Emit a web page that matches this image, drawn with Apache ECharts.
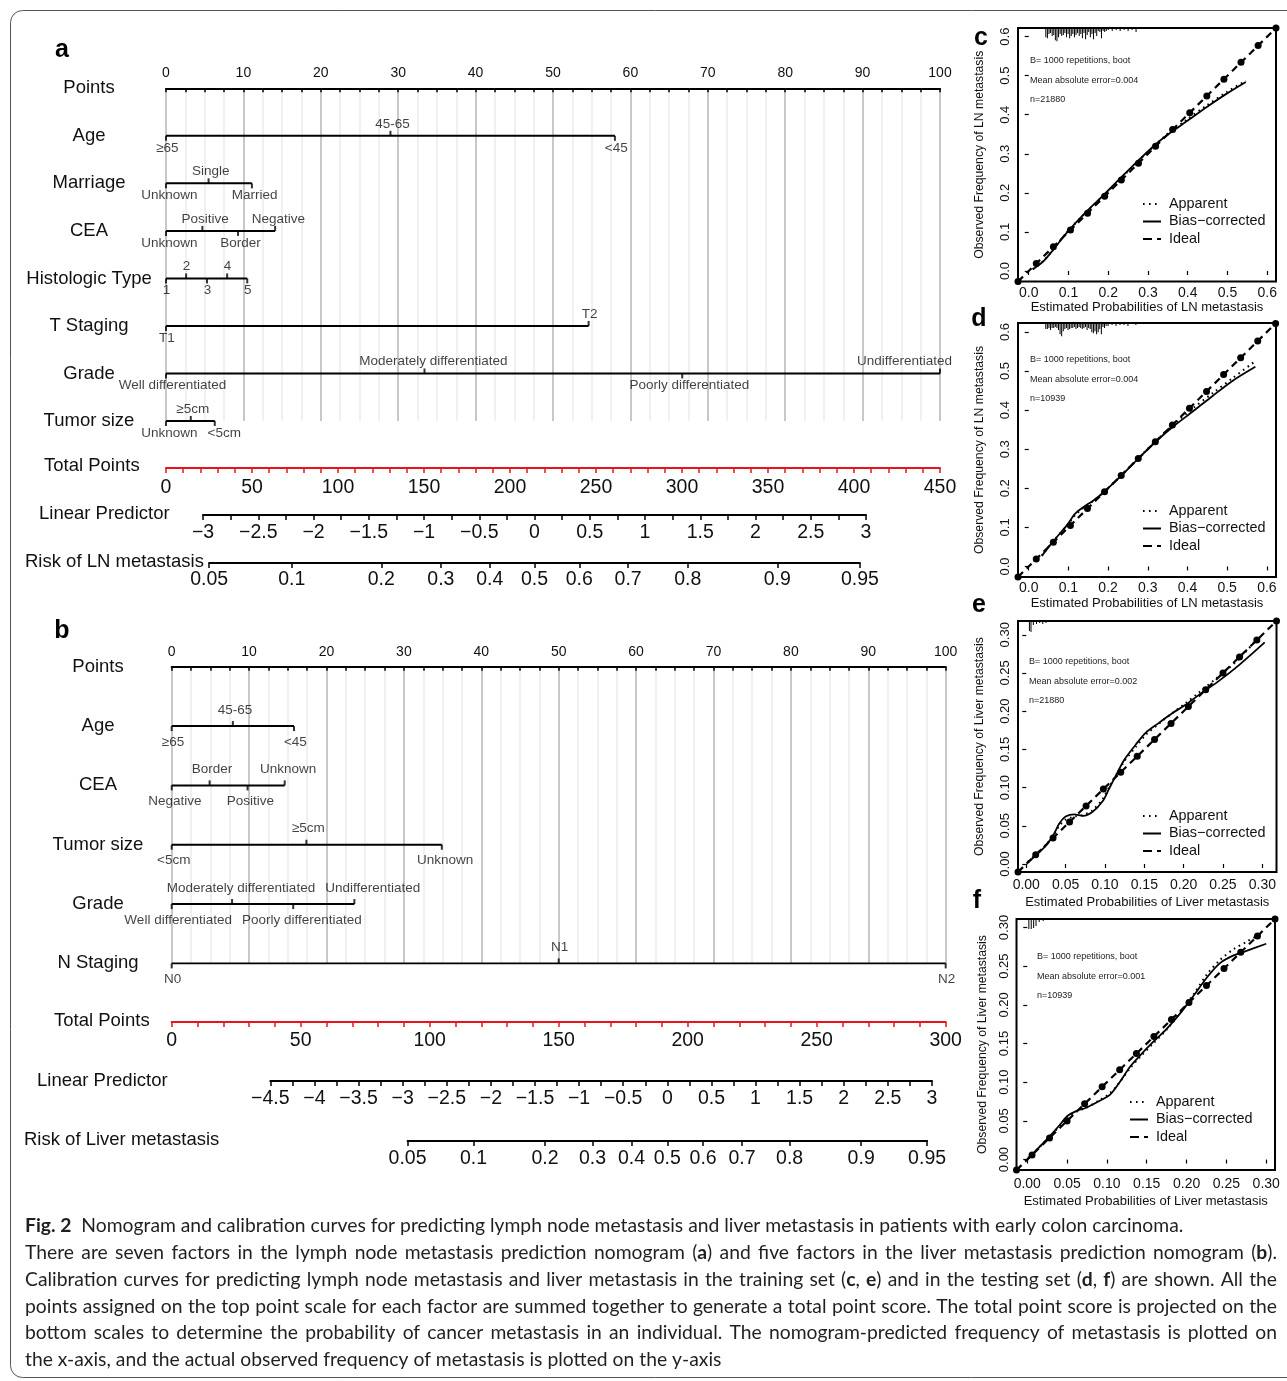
<!DOCTYPE html>
<html>
<head>
<meta charset="utf-8">
<title>Nomogram and calibration curves</title>
<script src="https://cdn.jsdelivr.net/npm/echarts@6.0.0/dist/echarts.min.js"></script>
<style>
html,body{margin:0;padding:0;background:#fff;}
#fig{width:1287px;height:1381px;}
</style>
</head>
<body>
<div id="fig"></div>
<script>
// ---------- Nomogram a: lymph node metastasis ----------
const rowNamesA = ['Points', 'Age', 'Marriage', 'CEA', 'Histologic Type', 'T Staging', 'Grade', 'Tumor size'];
const ageLevelsA = ['≥65', '45-65', '<45'];
const agePointsA = [0, 29, 58];
const marriageLevelsA = ['Unknown', 'Single', 'Married'];
const marriagePointsA = [0, 5.5, 11.1];
const ceaLevelsA = ['Unknown', 'Positive', 'Border', 'Negative'];
const ceaPointsA = [0, 4.7, 9.3, 14.1];
const histLevelsA = ['1', '2', '3', '4', '5'];
const histPointsA = [0, 2.6, 5.3, 7.9, 10.5];
const tLevelsA = ['T1', 'T2'];
const tPointsA = [0, 54.6];
const gradeLevelsA = ['Well differentiated', 'Moderately differentiated', 'Poorly differentiated', 'Undifferentiated'];
const gradePointsA = [0, 33.4, 66.7, 100];
const sizeLevelsA = ['Unknown', '≥5cm', '<5cm'];
const sizePointsA = [0, 3.2, 6.3];
const totalPointsA = [0, 450];
const linearPredA = [-3, 3];

// ---------- Nomogram b: liver metastasis ----------
const rowNamesB = ['Points', 'Age', 'CEA', 'Tumor size', 'Grade', 'N Staging'];
const ageLevelsB = ['≥65', '45-65', '<45'];
const agePointsB = [0, 7.9, 15.8];
const ceaLevelsB = ['Negative', 'Border', 'Positive', 'Unknown'];
const ceaPointsB = [0, 4.9, 9.8, 14.6];
const sizeLevelsB = ['<5cm', '≥5cm', 'Unknown'];
const sizePointsB = [0, 17.4, 34.9];
const gradeLevelsB = ['Well differentiated', 'Moderately differentiated', 'Poorly differentiated', 'Undifferentiated'];
const gradePointsB = [0, 7.8, 15.7, 23.6];
const nLevelsB = ['N0', 'N1', 'N2'];
const nPointsB = [0, 50, 100];
const totalPointsB = [0, 300];
const linearPredB = [-4.5, 3];

// risk scale ticks (probabilities)
const riskTicks = [0.05, 0.1, 0.2, 0.3, 0.4, 0.5, 0.6, 0.7, 0.8, 0.9, 0.95];

// ---------- Calibration curves ----------
const calTicksLN = [0, 0.1, 0.2, 0.3, 0.4, 0.5, 0.6];
const calTicksLiver = [0, 0.05, 0.1, 0.15, 0.2, 0.25, 0.3];

const idealC = [-0.027, 0.019, 0.062, 0.105, 0.148, 0.191, 0.233, 0.276, 0.319, 0.362, 0.405, 0.448, 0.491, 0.534, 0.577, 0.622];
const biasC = [[0.01, 0.004], [0.038, 0.026], [0.063, 0.056], [0.096, 0.098], [0.146, 0.153], [0.19, 0.196], [0.233, 0.24], [0.276, 0.283], [0.32, 0.325], [0.347, 0.347], [0.397, 0.383], [0.448, 0.42], [0.498, 0.454], [0.546, 0.484]];
const apparentC = [[0.01, 0.005], [0.038, 0.027], [0.063, 0.057], [0.096, 0.099], [0.146, 0.152], [0.19, 0.195], [0.233, 0.238], [0.276, 0.282], [0.32, 0.324], [0.347, 0.349], [0.397, 0.387], [0.448, 0.424], [0.498, 0.458], [0.546, 0.487]];

const idealD = [-0.027, 0.019, 0.062, 0.105, 0.148, 0.191, 0.233, 0.276, 0.319, 0.362, 0.405, 0.448, 0.491, 0.534, 0.577, 0.622];
const biasD = [[0.033, 0.027], [0.063, 0.066], [0.096, 0.105], [0.117, 0.135], [0.138, 0.152], [0.163, 0.169], [0.19, 0.191], [0.23, 0.229], [0.276, 0.276], [0.322, 0.321], [0.364, 0.358], [0.414, 0.397], [0.464, 0.437], [0.515, 0.476], [0.571, 0.511]];
const apparentD = [[0.033, 0.028], [0.063, 0.066], [0.096, 0.104], [0.117, 0.131], [0.138, 0.15], [0.163, 0.168], [0.19, 0.191], [0.23, 0.23], [0.276, 0.277], [0.322, 0.323], [0.364, 0.362], [0.414, 0.405], [0.464, 0.444], [0.515, 0.483], [0.569, 0.524]];

const idealE = [-0.0105, 0.012, 0.034, 0.055, 0.076, 0.098, 0.12, 0.141, 0.163, 0.184, 0.206, 0.228, 0.25, 0.271, 0.293, 0.318];
const biasE = [[0.002, 0.002], [0.012, 0.011], [0.025, 0.024], [0.035, 0.039], [0.042, 0.053], [0.05, 0.062], [0.061, 0.065], [0.072, 0.063], [0.084, 0.068], [0.097, 0.082], [0.105, 0.098], [0.114, 0.116], [0.125, 0.137], [0.139, 0.156], [0.152, 0.172], [0.169, 0.185], [0.185, 0.197], [0.202, 0.208], [0.219, 0.221], [0.244, 0.239], [0.27, 0.26], [0.303, 0.29]];
const apparentE = [[0.002, 0.003], [0.012, 0.012], [0.025, 0.025], [0.035, 0.038], [0.042, 0.05], [0.05, 0.058], [0.061, 0.062], [0.072, 0.064], [0.084, 0.07], [0.097, 0.085], [0.105, 0.1], [0.114, 0.116], [0.125, 0.135], [0.139, 0.153], [0.152, 0.169], [0.169, 0.184], [0.185, 0.197], [0.202, 0.21], [0.219, 0.224], [0.244, 0.245], [0.27, 0.268], [0.292, 0.293]];

const idealF = [-0.0135, 0.006, 0.028, 0.05, 0.072, 0.094, 0.116, 0.137, 0.159, 0.181, 0.203, 0.225, 0.247, 0.268, 0.289, 0.311];
const biasF = [[0.001, 0.001], [0.028, 0.03], [0.041, 0.045], [0.05, 0.056], [0.062, 0.063], [0.074, 0.067], [0.091, 0.076], [0.104, 0.084], [0.116, 0.1], [0.129, 0.12], [0.142, 0.135], [0.158, 0.152], [0.175, 0.169], [0.192, 0.189], [0.209, 0.212], [0.226, 0.236], [0.242, 0.254], [0.259, 0.264], [0.276, 0.27], [0.3, 0.279]];
const apparentF = [[0.001, 0.002], [0.028, 0.029], [0.041, 0.044], [0.05, 0.055], [0.062, 0.062], [0.074, 0.067], [0.091, 0.077], [0.104, 0.086], [0.116, 0.1], [0.129, 0.118], [0.142, 0.133], [0.158, 0.15], [0.175, 0.168], [0.192, 0.19], [0.209, 0.214], [0.226, 0.24], [0.242, 0.258], [0.259, 0.272], [0.276, 0.282], [0.288, 0.289]];

// distribution of predicted probabilities (rug counts along the top edge)
const rugLNx = [0.043, 0.047, 0.051, 0.055, 0.059, 0.063, 0.067, 0.071, 0.075, 0.079, 0.083, 0.087, 0.091, 0.095, 0.099, 0.103, 0.107, 0.111, 0.115, 0.119, 0.123, 0.127, 0.131, 0.135, 0.139, 0.143, 0.147, 0.151, 0.155, 0.159, 0.163, 0.167, 0.171, 0.175, 0.179, 0.183, 0.187, 0.191, 0.195, 0.2, 0.21, 0.22, 0.23, 0.24, 0.25, 0.26, 0.27, 0.28, 0.29, 0.3, 0.32, 0.34, 0.36, 0.38, 0.4];
const rugCh = [9, 10, 6, 5, 8, 7, 12, 13, 9, 6, 8, 7, 5, 9, 6, 10, 8, 6, 9, 7, 5, 8, 6, 10, 5, 11, 7, 4, 9, 6, 11, 5, 8, 3, 4, 10, 3, 4, 3, 2, 3, 2, 3, 2, 3, 2, 4, 1, 1, 1, 1, 1, 1, 1, 1];
const rugDh = [6, 6, 5, 7, 5, 5, 4, 5, 7, 11, 13, 8, 6, 5, 7, 6, 5, 5, 4, 6, 5, 4, 5, 6, 5, 4, 7, 5, 6, 9, 10, 8, 11, 9, 6, 11, 4, 5, 3, 3, 2, 3, 2, 2, 3, 1, 2, 1, 1, 1, 1, 1, 1, 1, 1];
const rugEx = [0.004, 0.006, 0.009, 0.013, 0.017, 0.021, 0.025, 0.03, 0.035, 0.04, 0.05, 0.06];
const rugEh = [10, 11, 4, 3, 2, 3, 2, 1, 1, 1, 1, 1];
const rugFx = [0.002, 0.005, 0.008, 0.011, 0.015, 0.02, 0.027, 0.033, 0.041, 0.054, 0.07, 0.09];
const rugFh = [10, 10, 9, 7, 3, 2, 1, 1, 1, 1, 1, 1];

// ---------- Caption ----------
const captionLines = [
  '**Fig. 2**  Nomogram and calibration curves for predicting lymph node metastasis and liver metastasis in patients with early colon carcinoma.',
  'There are seven factors in the lymph node metastasis prediction nomogram (**a**) and five factors in the liver metastasis prediction nomogram (**b**).',
  'Calibration curves for predicting lymph node metastasis and liver metastasis in the training set (**c**, **e**) and in the testing set (**d**, **f**) are shown. All the',
  'points assigned on the top point scale for each factor are summed together to generate a total point score. The total point score is projected on the',
  'bottom scales to determine the probability of cancer metastasis in an individual. The nomogram-predicted frequency of metastasis is plotted on',
  'the x-axis, and the actual observed frequency of metastasis is plotted on the y-axis'
];
const captionJustified = [false, true, true, true, true, false];

// ---------- helpers ----------
const FONT = '"Liberation Sans", Arial, Helvetica, sans-serif';
const CAPFONT = 'Lato, "Open Sans", sans-serif';
const INK = '#111';
const RED = '#e8141c';
const MINUS = '\u2212';

const logit = p => Math.log(p / (1 - p));
const invlogit = v => 1 / (1 + Math.exp(-v));

const mctx = document.createElement('canvas').getContext('2d');
function textW(s, size, fam, bold) {
  mctx.font = (bold ? 'bold ' : '') + size + 'px ' + fam;
  return mctx.measureText(s).width;
}

const grid = [], xAxis = [], yAxis = [], series = [], graphic = [];
function addGrid(g) { grid.push(Object.assign({ outerBoundsMode: 'none', containLabel: false }, g)); return grid.length - 1; }
function addX(a) { xAxis.push(a); return xAxis.length - 1; }
function addY(a) { yAxis.push(a); return yAxis.length - 1; }

// upper part of a nomogram: the Points scale plus one row per factor
function nomogramTop(box, rowNames, rows, nameCenterX, labelGap) {
  const gi = addGrid({ left: box.left, top: box.top, width: box.width, height: box.height });
  const xi = addX({
    gridIndex: gi, type: 'value', position: 'top', min: 0, max: 100, interval: 10,
    axisLine: { show: true, onZero: false, lineStyle: { color: '#000', width: 2 } },
    axisTick: { show: true, inside: true, length: 4, lineStyle: { color: '#000', width: 1.5 } },
    minorTick: { show: true, splitNumber: 4, length: 4, lineStyle: { color: '#000', width: 1.5 } },
    axisLabel: { margin: 8, fontSize: 14, color: INK, fontFamily: FONT },
    splitLine: { show: true, lineStyle: { color: '#c8c8c8', width: 2 } },
    minorSplitLine: { show: true, lineStyle: { color: '#ebebeb', width: 1.5 } }
  });
  const yi = addY({
    gridIndex: gi, type: 'value', inverse: true, min: 0, max: rowNames.length - 1, interval: 1,
    axisLine: { show: false }, axisTick: { show: false }, splitLine: { show: false },
    axisLabel: { formatter: v => rowNames[v] || '', align: 'center', margin: box.left - nameCenterX, fontSize: 18.5, color: INK, fontFamily: FONT }
  });
  const pxPerPt = box.width / 100;
  rows.forEach((row, i) => {
    const r = i + 1;
    const pts = row.points;
    // level labels sit slightly right of their tick and are pushed apart when they would collide
    const dx = pts.map(() => 0);
    [0, 1].forEach(side => {
      let prevRight = -Infinity;
      pts.forEach((p, k) => {
        if (k % 2 !== side) return;
        const w = textW(row.levels[k], 13.5, FONT);
        const c = p * pxPerPt;
        let left = Math.max(c + 0.06 * w - w / 2, prevRight + 10);
        if (left + w > box.width + 12) left = box.width + 12 - w;
        dx[k] = left + w / 2 - c;
        prevRight = left + w;
      });
    });
    series.push({
      type: 'line', xAxisIndex: xi, yAxisIndex: yi, silent: true, z: 5, symbol: 'none',
      data: [[pts[0], r], [pts[pts.length - 1], r]],
      lineStyle: { color: '#000', width: 2 }
    });
    series.push({
      type: 'scatter', xAxisIndex: xi, yAxisIndex: yi, silent: true, z: 6,
      symbol: 'rect', symbolSize: [2, 5], itemStyle: { color: '#000' },
      label: { show: true, formatter: '{b}', fontSize: 13.5, color: INK, fontFamily: FONT, distance: labelGap },
      data: row.levels.map((name, k) => ({
        name, value: [pts[k], r],
        symbolOffset: [0, k % 2 ? -2.5 : 2.5],
        label: { position: k % 2 ? 'top' : 'bottom', offset: [dx[k], 0] }
      }))
    });
  });
}

// a single horizontal scale drawn as a bare axis
function scaleAxis(left, width, lineY, axisOpts) {
  const gi = addGrid({ left, top: lineY - 1, width, height: 1 });
  addY({ gridIndex: gi, type: 'value', show: false, min: 0, max: 1 });
  addX(Object.assign({ gridIndex: gi, type: 'value', position: 'bottom', splitLine: { show: false } }, axisOpts));
}

const lpLabel = v => (v < 0 ? MINUS : '') + String(parseFloat(Math.abs(v).toFixed(2)));
const riskLabel = v => String(parseFloat(invlogit(v).toFixed(2)));

function bottomScales(tpBox, tpRange, lpBox, lpRange, ys, names, margins) {
  const blackLine = { show: true, onZero: false, lineStyle: { color: '#000', width: 2 } };
  const blackTick = { show: true, length: 5, lineStyle: { color: '#000', width: 1.5 } };
  const lab = { fontSize: 19.5, fontFamily: FONT, color: INK };
  scaleAxis(tpBox.left, tpBox.width, ys[0], {
    min: tpRange[0], max: tpRange[1], interval: 50,
    axisLine: { show: true, onZero: false, lineStyle: { color: RED, width: 2 } },
    axisTick: { show: true, length: 5, lineStyle: { color: RED, width: 1.5 } },
    minorTick: { show: true, splitNumber: 5, length: 5, lineStyle: { color: RED, width: 1.5 } },
    axisLabel: Object.assign({}, lab, { margin: margins[0] })
  });
  scaleAxis(lpBox.left, lpBox.width, ys[1], {
    min: lpRange[0], max: lpRange[1], interval: 0.5,
    axisLine: blackLine, axisTick: blackTick,
    minorTick: { show: true, splitNumber: 2, length: 5, lineStyle: { color: '#000', width: 1.5 } },
    axisLabel: Object.assign({}, lab, { margin: margins[1], formatter: lpLabel })
  });
  // the risk scale shares the linear-predictor pixel mapping through the logit
  const toPx = v => lpBox.left + (v - lpRange[0]) / (lpRange[1] - lpRange[0]) * lpBox.width;
  const riskVals = riskTicks.map(logit);
  const lo = riskVals[0], hi = riskVals[riskVals.length - 1];
  scaleAxis(toPx(lo), toPx(hi) - toPx(lo), ys[2], {
    min: lo, max: hi,
    axisLine: blackLine,
    axisTick: Object.assign({}, blackTick, { customValues: riskVals }),
    axisLabel: Object.assign({}, lab, { margin: margins[2], customValues: riskVals, formatter: riskLabel })
  });
  names.forEach(n => graphic.push({
    type: 'text', x: n.x, y: n.y, silent: true,
    style: { text: n.text, fontSize: 18.5, fontFamily: FONT, fill: INK, verticalAlign: 'middle' }
  }));
}

// calibration plot with rug, apparent / bias-corrected / ideal curves
function calPanel(p) {
  const gi = addGrid({ left: p.box.left, top: p.box.top, width: p.box.width, height: p.box.height, show: true, borderColor: '#000', borderWidth: 2, backgroundColor: 'transparent' });
  const fmt = v => v.toFixed(p.dec);
  const xi = addX({
    gridIndex: gi, type: 'value', min: p.lim[0], max: p.lim[1],
    axisLine: { show: false },
    axisTick: { show: true, customValues: p.ticks, length: 4, lineStyle: { color: '#000', width: 1.2 } },
    axisLabel: { customValues: p.ticks, formatter: fmt, margin: p.xLabelMargin, fontSize: 14, color: INK, fontFamily: FONT },
    splitLine: { show: false },
    name: p.xTitle, nameLocation: 'middle', nameGap: p.xNameGap,
    nameTextStyle: { fontSize: 13, color: INK, fontFamily: FONT }
  });
  const yi = addY({
    gridIndex: gi, type: 'value', min: p.lim[0], max: p.lim[1],
    axisLine: { show: false },
    axisTick: { show: true, customValues: p.ticks, length: 4, lineStyle: { color: '#000', width: 1.2 } },
    axisLabel: { customValues: p.ticks, formatter: fmt, rotate: 90, margin: 6, fontSize: 13, color: INK, fontFamily: FONT },
    splitLine: { show: false },
    name: p.yTitle, nameLocation: 'middle', nameGap: p.yNameGap,
    nameTextStyle: { fontSize: 12.2, color: INK, fontFamily: FONT }
  });
  const ri = addY({ gridIndex: gi, type: 'value', inverse: true, min: 0, max: 250, show: false });
  series.push({
    type: 'bar', xAxisIndex: xi, yAxisIndex: ri, silent: true, barWidth: 1, z: 2,
    itemStyle: { color: '#000' }, data: p.rugX.map((x, i) => [x, p.rugH[i]])
  });
  series.push({
    type: 'line', xAxisIndex: xi, yAxisIndex: yi, silent: true, smooth: 0.3, symbol: 'none', z: 3,
    lineStyle: { color: '#000', width: 2, type: [1.6, 4] }, data: p.apparent
  });
  series.push({
    type: 'line', xAxisIndex: xi, yAxisIndex: yi, silent: true, smooth: 0.3, symbol: 'none', z: 4,
    lineStyle: { color: '#000', width: 1.8 }, data: p.bias
  });
  series.push({
    type: 'line', xAxisIndex: xi, yAxisIndex: yi, silent: true, z: 5,
    symbol: 'circle', symbolSize: 7, showSymbol: true, itemStyle: { color: '#000' },
    lineStyle: { color: '#000', width: 2.2, type: [7, 5] }, data: p.ideal.map(v => [v, v])
  });
  // summary text in the upper-left corner
  p.notes.forEach((t, i) => graphic.push({
    type: 'text', x: p.noteAt[0], y: p.noteAt[1] + i * 19.5, silent: true,
    style: { text: t, fontSize: 9, fontFamily: FONT, fill: '#222', verticalAlign: 'middle' }
  }));
  // legend
  const L = p.legendAt;
  const items = [['Apparent', [1.6, 4.4]], ['Bias' + MINUS + 'corrected', null], ['Ideal', [9, 5]]];
  items.forEach((it, i) => {
    const y = L[1] + i * 17.5;
    graphic.push({ type: 'line', silent: true, shape: { x1: L[0], y1: y, x2: L[0] + 18, y2: y },
      style: { stroke: '#000', lineWidth: 2, lineDash: it[1] || null } });
    graphic.push({ type: 'text', x: L[0] + 26, y, silent: true,
      style: { text: it[0], fontSize: 14.4, fontFamily: FONT, fill: INK, verticalAlign: 'middle' } });
  });
}

// ---------- build nomogram a ----------
const boxA = { left: 166, top: 88.3, width: 774, height: 332.7 };
nomogramTop(boxA, rowNamesA, [
  { levels: ageLevelsA, points: agePointsA },
  { levels: marriageLevelsA, points: marriagePointsA },
  { levels: ceaLevelsA, points: ceaPointsA },
  { levels: histLevelsA, points: histPointsA },
  { levels: tLevelsA, points: tPointsA },
  { levels: gradeLevelsA, points: gradePointsA },
  { levels: sizeLevelsA, points: sizePointsA }
], 89, 0);
bottomScales({ left: 166, width: 774 }, totalPointsA, { left: 203, width: 663 }, linearPredA, [468, 515, 563], [
  { text: 'Total Points', x: 44, y: 466 },
  { text: 'Linear Predictor', x: 39, y: 514 },
  { text: 'Risk of LN metastasis', x: 25, y: 562 }
], [10, 8, 7]);

// ---------- build nomogram b ----------
const boxB = { left: 171.7, top: 666.7, width: 774, height: 296.7 };
nomogramTop(boxB, rowNamesB, [
  { levels: ageLevelsB, points: agePointsB },
  { levels: ceaLevelsB, points: ceaPointsB },
  { levels: sizeLevelsB, points: sizePointsB },
  { levels: gradeLevelsB, points: gradePointsB },
  { levels: nLevelsB, points: nPointsB }
], 98, 4);
bottomScales({ left: 171.7, width: 774 }, totalPointsB, { left: 270.3, width: 661.7 }, linearPredB, [1022, 1081, 1141], [
  { text: 'Total Points', x: 54, y: 1021 },
  { text: 'Linear Predictor', x: 37, y: 1081 },
  { text: 'Risk of Liver metastasis', x: 24, y: 1140 }
], [9, 8, 8]);

// ---------- calibration panels ----------
const lnX = 'Estimated Probabilities of LN metastasis';
const lnY = 'Observed Frequency of LN metastasis';
const lvX = 'Estimated Probabilities of Liver metastasis';
const lvY = 'Observed Frequency of Liver metastasis';
calPanel({ box: { left: 1018, top: 28, width: 258, height: 253.5 }, lim: [-0.027, 0.622], ticks: calTicksLN, dec: 1,
  xTitle: lnX, yTitle: lnY, xLabelMargin: 5, xNameGap: 19.5, yNameGap: 32,
  ideal: idealC, bias: biasC, apparent: apparentC, rugX: rugLNx, rugH: rugCh,
  notes: ['B= 1000 repetitions, boot', 'Mean absolute error=0.004', 'n=21880'], noteAt: [1030, 61], legendAt: [1143, 204] });
calPanel({ box: { left: 1018, top: 323, width: 258, height: 254 }, lim: [-0.027, 0.623], ticks: calTicksLN, dec: 1,
  xTitle: lnX, yTitle: lnY, xLabelMargin: 4, xNameGap: 19.5, yNameGap: 32,
  ideal: idealD, bias: biasD, apparent: apparentD, rugX: rugLNx, rugH: rugDh,
  notes: ['B= 1000 repetitions, boot', 'Mean absolute error=0.004', 'n=10939'], noteAt: [1030, 360], legendAt: [1143, 511] });
calPanel({ box: { left: 1018, top: 621, width: 258.5, height: 251 }, lim: [-0.0105, 0.318], ticks: calTicksLiver, dec: 2,
  xTitle: lvX, yTitle: lvY, xLabelMargin: 6, xNameGap: 23.5, yNameGap: 32,
  ideal: idealE, bias: biasE, apparent: apparentE, rugX: rugEx, rugH: rugEh,
  notes: ['B= 1000 repetitions, boot', 'Mean absolute error=0.002', 'n=21880'], noteAt: [1029, 662], legendAt: [1143, 816] });
calPanel({ box: { left: 1016.5, top: 919, width: 258.5, height: 251 }, lim: [-0.0135, 0.311], ticks: calTicksLiver, dec: 2,
  xTitle: lvX, yTitle: lvY, xLabelMargin: 7, xNameGap: 24.5, yNameGap: 28,
  ideal: idealF, bias: biasF, apparent: apparentF, rugX: rugFx, rugH: rugFh,
  notes: ['B= 1000 repetitions, boot', 'Mean absolute error=0.001', 'n=10939'], noteAt: [1037, 957], legendAt: [1130, 1102] });

// ---------- panel letters ----------
[['a', 62, 50], ['b', 62, 631], ['c', 981, 38], ['d', 979, 319], ['e', 979, 605], ['f', 977, 901]].forEach(l => graphic.push({
  type: 'text', x: l[1], y: l[2], silent: true,
  style: { text: l[0], fontSize: 25, fontWeight: 'bold', fontFamily: FONT, fill: '#000', align: 'center', verticalAlign: 'middle' }
}));

// ---------- caption ----------
const capLeft = 25, capRight = 1277, capTop = 1226, capStep = 26.8;
const capSize = Math.max(16, Math.min(19.5, 18 * 697 / textW(captionLines[5], 18, CAPFONT)));
const capRich = {
  n: { fontSize: capSize, fontFamily: CAPFONT, fill: '#231f20' },
  b: { fontSize: capSize, fontFamily: CAPFONT, fill: '#231f20', fontWeight: 'bold' }
};
const segsOf = s => s.split('**').map((t, i) => ({ t, b: i % 2 === 1 })).filter(o => o.t);
const richOf = segs => segs.map(o => '{' + (o.b ? 'b' : 'n') + '|' + o.t + '}').join('');
const widthOf = segs => segs.reduce((w, o) => w + textW(o.t, capSize, CAPFONT, o.b), 0);
captionLines.forEach((line, li) => {
  const y = capTop + li * capStep;
  if (!captionJustified[li]) {
    graphic.push({ type: 'text', x: capLeft, y, silent: true, style: { text: richOf(segsOf(line)), rich: capRich, verticalAlign: 'middle' } });
    return;
  }
  const words = line.split(' ').map(segsOf);
  const widths = words.map(widthOf);
  const gap = (capRight - capLeft - widths.reduce((a, b) => a + b, 0)) / (words.length - 1);
  let x = capLeft;
  words.forEach((w, k) => {
    graphic.push({ type: 'text', x, y, silent: true, style: { text: richOf(w), rich: capRich, verticalAlign: 'middle' } });
    x += widths[k] + gap;
  });
});

// outer frame
graphic.push({ type: 'rect', silent: true, z: -1, shape: { x: 10.5, y: 10.5, width: 1290, height: 1367, r: 12 },
  style: { fill: 'none', stroke: '#555', lineWidth: 1 } });

const chart = echarts.init(document.getElementById('fig'), null, { renderer: 'canvas', width: 1287, height: 1381 });
chart.setOption({
  animation: false,
  backgroundColor: '#fff',
  textStyle: { fontFamily: FONT },
  grid, xAxis, yAxis, series, graphic
});
</script>
</body>
</html>
